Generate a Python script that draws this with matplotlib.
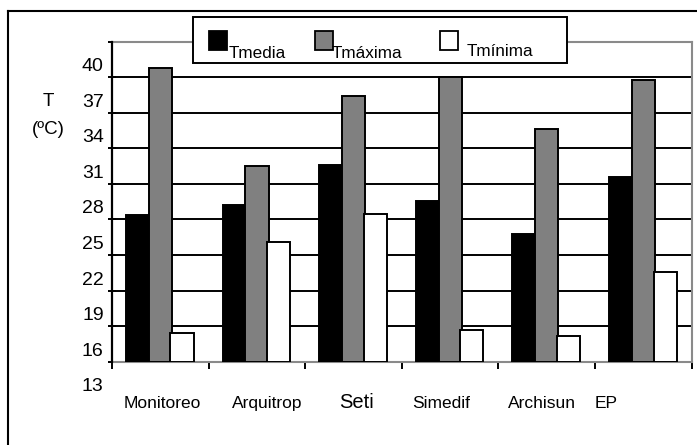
import numpy as np
import matplotlib
matplotlib.use("Agg")
import matplotlib.pyplot as plt
from matplotlib.patches import Rectangle
from matplotlib.lines import Line2D
from matplotlib.transforms import ScaledTranslation, blended_transform_factory

plt.rcParams['font.family'] = ['Liberation Sans', 'DejaVu Sans']

# ---- data -------------------------------------------------------------
categories = ["Monitoreo", "Arquitrop", "Seti", "Simedif", "Archisun", "EP"]
series_names = ["Tmedia", "Tmáxima", "Tmínima"]
t_media = [25.4, 26.2, 29.6, 26.6, 23.8, 28.6]
t_maxima = [37.8, 29.5, 35.4, 37.0, 32.6, 36.8]
t_minima = [15.4, 23.1, 25.5, 15.7, 15.2, 20.6]
y_ticks = [13, 16, 19, 22, 25, 28, 31, 34, 37, 40]

# ---- styling / layout ---------------------------------------------------
colors = ["#000000", "#808080", "#ffffff"]
bar_width = 0.24
bar_offsets = [-0.235, 0.0, 0.225]
label_x = [0.02, 1.105, 2.03, 2.906, 3.951, 4.614]
label_size = [12.5, 12.5, 14.5, 12.5, 12.5, 12.5]

W, H = 697, 445
fig = plt.figure(figsize=(W / 100, H / 100), dpi=100)


def fx(x):
    return x / W


def fy(y):
    return 1 - y / H


ax = fig.add_axes([fx(112), fy(361.7), fx(691.7) - fx(112), fy(41.7) - fy(361.7)])

x = np.arange(len(categories))
for vals, off, col in zip([t_media, t_maxima, t_minima], bar_offsets, colors):
    ax.bar(x + off, np.array(vals) - y_ticks[0], bottom=y_ticks[0], width=bar_width,
           color=col, edgecolor="black", linewidth=1.4, zorder=3)

ax.set_xlim(-0.5, len(categories) - 0.5)
ax.set_ylim(y_ticks[0], y_ticks[-1])

# horizontal gridlines
for v in y_ticks[1:-1]:
    ax.axhline(v, color="black", linewidth=1.4, zorder=1)

# frame: black left axis, grey plot-area border elsewhere
for side in ["top", "right", "bottom"]:
    ax.spines[side].set_color("#8a8a8a")
    ax.spines[side].set_linewidth(1.5)
ax.spines["left"].set_color("black")
ax.spines["left"].set_linewidth(1.6)
ax.spines["left"].set_zorder(4)

ax.set_yticks(y_ticks)
ax.set_yticklabels([str(v) for v in y_ticks], fontsize=14)
ax.tick_params(axis="y", direction="inout", length=6, width=1.4, color="black", pad=3)
shift = ScaledTranslation(0, -0.23, fig.dpi_scale_trans)
for lab in ax.get_yticklabels():
    lab.set_transform(lab.get_transform() + shift)

ax.set_xticks(np.arange(len(categories) + 1) - 0.5)
ax.set_xticklabels([])
ax.tick_params(axis="x", direction="out", length=5, width=1.4, color="black")

# category names
trans = blended_transform_factory(ax.transData, ax.transAxes)
for name, xp, fs in zip(categories, label_x, label_size):
    ax.text(xp, -0.145, name, transform=trans, ha="center", va="baseline",
            fontsize=fs, color="black")

# axis title
fig.text(fx(48.5), fy(101.5), "T", ha="center", va="center", fontsize=13.5)
fig.text(fx(48.5), fy(129), "(ºC)", ha="center", va="center", fontsize=13.5)

# outer chart frame
fig.add_artist(Line2D([fx(8), fx(697)], [fy(11), fy(11)], color="black", linewidth=1.5))
fig.add_artist(Line2D([fx(8), fx(8)], [fy(11), fy(445)], color="black", linewidth=1.5))

# legend box
fig.add_artist(Rectangle((fx(193), fy(63.3)), fx(566.7) - fx(193), fy(17.3) - fy(63.3),
                         transform=fig.transFigure, facecolor="white", edgecolor="black",
                         linewidth=1.4, zorder=5))
legend_sq_x = [209, 315, 440]
legend_txt_x = [229, 332, 467]
legend_base = [57.5, 57.5, 56]
for name, col, sx, tx, by in zip(series_names, colors, legend_sq_x, legend_txt_x, legend_base):
    fig.add_artist(Rectangle((fx(sx), fy(50)), fx(18) , fy(31) - fy(50),
                             transform=fig.transFigure, facecolor=col, edgecolor="black",
                             linewidth=1.3, zorder=6))
    fig.text(fx(tx), fy(by), name, ha="left", va="baseline", fontsize=12.3, zorder=7)

fig.savefig("out.png", dpi=100, facecolor="white")
